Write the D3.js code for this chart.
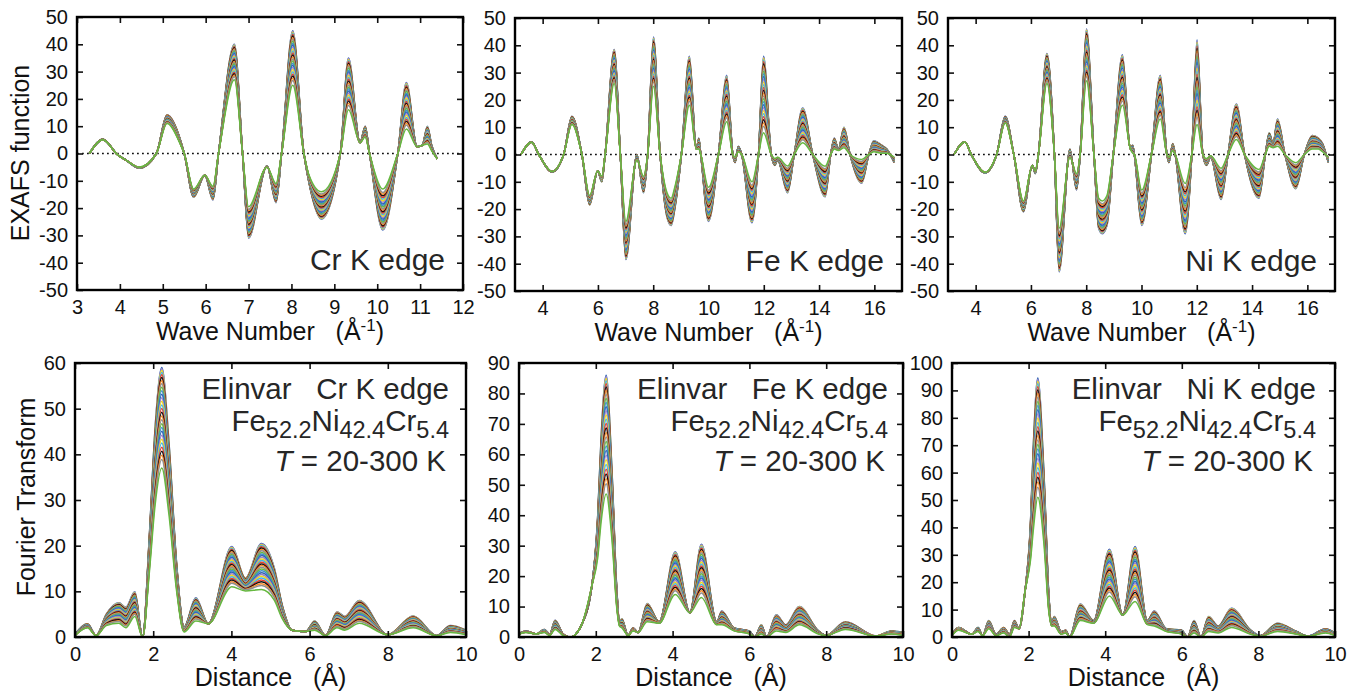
<!DOCTYPE html>
<html>
<head>
<meta charset="utf-8">
<script src="https://cdn.jsdelivr.net/npm/d3@7"></script>
<style>
  html, body { margin: 0; padding: 0; background: #fff; }
  svg { display: block; font-family: "Liberation Sans", Arial, Helvetica, sans-serif; }
</style>
</head>
<body>
<svg id="fig" width="1358" height="698"></svg>
<script>
// Measurement temperatures (K), one curve each
const temperatures = [20, 30, 40, 50, 60, 70, 80, 90, 100, 110, 120, 130, 140, 150, 160,
  170, 180, 190, 200, 210, 220, 230, 240, 250, 260, 270, 280, 290, 300];

// Relative damping of each temperature between the 20 K (0) and 300 K (1) spectra
const bandPos = [0, 0.012, 0.028, 0.048, 0.072, 0.1, 0.13, 0.162, 0.196, 0.23, 0.265, 0.3,
  0.336, 0.372, 0.408, 0.445, 0.482, 0.52, 0.558, 0.596, 0.635, 0.674, 0.713, 0.752,
  0.792, 0.832, 0.873, 0.915, 1];

// Line colour cycle
const lineColors = ["#2f64b5", "#9c84c8", "#efdc1c", "#47b4e6", "#e8412c",
  "#111111", "#f28a2c", "#8f8f8f", "#66b840", "#3f8fcf"];

// EXAFS k·chi(k): [k (Å^-1), 20 K value, 300 K value]
const chiCr = [
  [3.29, 0, 0], [3.6, 5.2, 5], [3.95, -0.5, -0.5], [4.15, -2.5, -2.5], [4.45, -5.4, -5],
  [4.85, 0, 0], [5.1, 14.2, 11], [5.42, 4.5, 3], [5.5, 0, 0], [5.72, -16, -13],
  [5.98, -8, -8], [6.17, -17, -12], [6.3, 0, 0], [6.67, 40, 27], [6.86, 0, 0],
  [7.0, -31, -19.5], [7.43, -4.5, -5], [7.64, -18, -11], [7.77, 0, 0], [8.03, 45, 25],
  [8.29, 0, 0], [8.4, -10, -7.5], [8.7, -24, -14], [9.14, 0, 0], [9.33, 35, 16],
  [9.6, 4, 4], [9.72, 10, 6], [9.82, 0, 0], [10.13, -28, -13], [10.48, 0, 0],
  [10.68, 26, 9], [10.93, 2.5, 2.5], [11.05, 3, 3], [11.17, 10, 3.5], [11.27, 3, 1],
  [11.4, -2, -2]
];
const chiFe = [
  [3.22, 0, 0], [3.6, 4.6, 4.5], [3.86, 0, 0], [4.34, -6.4, -6.2], [4.76, 0, 0],
  [5.06, 14, 11], [5.42, 0, 0], [5.7, -18.5, -15], [5.99, -6, -6], [6.14, -10, -8],
  [6.26, 0, 0], [6.59, 38.5, 26], [6.81, 0, 0], [7.01, -38.5, -24.5], [7.41, 0, -2],
  [7.65, -14, -8], [7.8, 0, 0], [8.01, 43, 25], [8.25, 0, 0], [8.5, -23, -14],
  [8.65, -26, -16], [8.78, -20, -12], [9.02, 0, 0], [9.31, 36, 18], [9.56, 2, 2],
  [9.65, 6, 2], [9.72, 0, 0], [10.0, -24.5, -12], [10.36, 0, 0], [10.66, 29, 12],
  [10.88, 0, 0], [10.96, -3, -1], [11.08, 3, 1], [11.2, 0, 0], [11.57, -25, -10],
  [11.81, 0, 0], [11.99, 36, 8], [12.27, 0, 0], [12.4, -4, -1.5], [12.5, -2, -1],
  [12.86, -14, -4.2], [13.1, 0, 0], [13.41, 17, 4.3], [13.77, 0, 0], [14.22, -15.5, -4.3],
  [14.42, 0, 0], [14.55, 6, 2], [14.7, 2, 1.5], [14.9, 10, 2.5], [15.12, 0, 0],
  [15.54, -10.5, -1.8], [15.8, 0, 0], [15.98, 5, 1], [16.25, 3.5, 0.5], [16.45, 2, 0.5],
  [16.72, -3, -1]
];
const chiNi = [
  [3.22, 0, 0], [3.61, 4.7, 4.6], [3.84, 0, 0], [4.34, -6.7, -6.5], [4.76, 0, 0],
  [5.07, 14, 11.5], [5.38, 0, 0], [5.73, -21, -17], [6.05, -4, -4], [6.16, -7, -6],
  [6.27, 0, 0], [6.58, 37, 26], [6.85, 0, 0], [7.02, -43, -27], [7.41, 2, -1],
  [7.65, -13, -7], [7.78, 0, 0], [8.01, 46, 27], [8.28, 0, 0], [8.45, -27, -16],
  [8.58, -29, -17], [8.75, -26, -15], [8.98, 0, 0], [9.31, 36.5, 18], [9.6, 2, 2],
  [9.68, 3.5, 0.5], [9.74, 0, 0], [10.01, -26, -13], [10.36, 0, 0], [10.68, 29, 13],
  [10.92, 0, 0], [10.99, -3, -1], [11.13, 4, 1.5], [11.22, 0, 0], [11.58, -29, -10.6],
  [11.82, 0, 0], [12.01, 42, 11], [12.22, 0, 0], [12.35, -4, -1.5], [12.5, -1, -0.5],
  [12.88, -16.5, -5], [13.13, 0, 0], [13.43, 18.5, 5.5], [13.73, 0, 0], [14.25, -16, -5.5],
  [14.48, 0, 0], [14.62, 8, 3], [14.76, 4, 2.5], [14.92, 13, 3], [15.19, 0, 0],
  [15.58, -12.5, -3], [15.89, 0, 0], [16.18, 7, 2], [16.4, 6, 2], [16.55, 4, 1],
  [16.76, -3, -1]
];

// Fourier transform magnitude: [R (Å), 20 K value, 300 K value]
const ftCr = [
  [0, 0.6, 0.3], [0.32, 2.9, 2], [0.54, 0.3, 0.3], [0.8, 5, 2.5], [1.12, 7.5, 3],
  [1.3, 6.5, 2], [1.53, 9.9, 4.5], [1.73, 0, 0], [1.9, 22, 14], [2.05, 46, 29],
  [2.22, 59, 37], [2.4, 43, 27], [2.6, 16, 10], [2.79, 2.2, 1.1], [3.09, 8.6, 3.5],
  [3.41, 2.9, 2.9], [4.01, 19.8, 11], [4.36, 12.9, 10.1], [4.77, 20.5, 10.4],
  [5.1, 15, 8], [5.3, 7, 4], [5.55, 1.5, 1.5], [5.9, 1.2, 1.2], [6.13, 3.5, 1.5],
  [6.41, 0.3, 0.3], [6.7, 5.5, 2], [6.9, 4.5, 1.5], [7.27, 8, 3], [8.0, 0.5, 0.5],
  [8.65, 4.6, 2], [9.25, 0.3, 0.3], [9.6, 2.5, 1], [10, 1.5, 0.5]
];
const ftFe = [
  [0, 1, 1], [0.18, 2, 1.5], [0.45, 1, 1], [0.66, 2.5, 1.5], [0.8, 1, 0.5],
  [0.94, 5.5, 2.5], [1.15, 1, 0.5], [1.34, 0, 0], [1.63, 4, 4], [1.9, 17, 17],
  [2.05, 40, 26], [2.14, 66, 38], [2.27, 86, 47], [2.42, 55, 32], [2.55, 15, 9],
  [2.62, 5, 3.5], [2.68, 6, 3], [2.84, 0.5, 0.5], [2.97, 3, 2], [3.1, 1.5, 1.5],
  [3.34, 11, 5], [3.65, 5, 4.5], [4.07, 28, 14], [4.45, 8, 8], [4.75, 30.5, 13],
  [5.15, 5, 4], [5.28, 8.5, 4], [5.6, 3, 2], [6.0, 2, 1], [6.14, 0, 0], [6.31, 4, 1],
  [6.45, 0, 0], [6.7, 7.3, 2], [6.95, 4, 1.5], [7.3, 10, 4], [7.8, 2, 1], [8.0, 0.5, 0.5],
  [8.5, 5, 2.5], [9.3, 0.3, 0.3], [9.7, 2, 1], [10, 1.5, 0.5]
];
const ftNi = [
  [0, 1, 0.5], [0.17, 3.5, 2.5], [0.52, 1, 1], [0.68, 3.5, 2], [0.8, 0.5, 0.5],
  [0.96, 6, 3], [1.15, 1, 0.5], [1.35, 3.5, 1.5], [1.5, 1, 0], [1.63, 6, 3.5],
  [1.75, 3, 3], [1.91, 17, 17], [2.05, 42, 28], [2.13, 72, 40], [2.24, 94.5, 51],
  [2.4, 60, 34], [2.53, 15, 9], [2.6, 5, 4], [2.67, 7.5, 4], [2.85, 2, 1], [2.97, 2.5, 1.5],
  [3.07, 0, 0], [3.35, 12, 6], [3.7, 6, 5], [4.11, 32, 15], [4.46, 8, 8], [4.78, 33, 13],
  [5.1, 6, 4.5], [5.28, 9.5, 4], [5.6, 3, 2], [6.0, 2.5, 1], [6.15, 0, 0], [6.32, 6, 1.5],
  [6.5, 0, 0], [6.7, 7.5, 2], [6.95, 4, 1.5], [7.3, 10.5, 3.5], [7.8, 2.5, 1],
  [8.05, 0.5, 0.3], [8.5, 5, 2], [9.0, 2, 1], [9.3, 0.3, 0.3], [9.75, 3, 1.5], [10, 1.5, 0.5]
];

// Axis ticks
const chiTicksY = [-50, -40, -30, -20, -10, 0, 10, 20, 30, 40, 50];
const kTicksCr = [3, 4, 5, 6, 7, 8, 9, 10, 11, 12];
const kTicksWide = [4, 6, 8, 10, 12, 14, 16];
const rTicks = [0, 2, 4, 6, 8, 10];
const ftTicksCr = [0, 10, 20, 30, 40, 50, 60];
const ftTicksFe = [0, 10, 20, 30, 40, 50, 60, 70, 80, 90];
const ftTicksNi = [0, 10, 20, 30, 40, 50, 60, 70, 80, 90, 100];

const edgeNames = ["Cr", "Fe", "Ni"];

const svg = d3.select("#fig");
const TICK_FONT = 20;
const TEXT_COL = "#262626";

const panels = [
  { data: chiCr, box: [77, 17, 463, 290], xd: [3, 12], yd: [-50, 50], xt: kTicksCr, yt: chiTicksY, kind: "chi", edge: 0 },
  { data: chiFe, box: [515, 18, 902, 291], xd: [3, 17], yd: [-50, 50], xt: kTicksWide, yt: chiTicksY, kind: "chi", edge: 1 },
  { data: chiNi, box: [948, 18, 1335, 291], xd: [3, 17], yd: [-50, 50], xt: kTicksWide, yt: chiTicksY, kind: "chi", edge: 2 },
  { data: ftCr, box: [75, 363, 466, 637], xd: [0, 10], yd: [0, 60], xt: rTicks, yt: ftTicksCr, kind: "ft", edge: 0, inset: 17 },
  { data: ftFe, box: [519, 363, 903, 637], xd: [0, 10], yd: [0, 90], xt: rTicks, yt: ftTicksFe, kind: "ft", edge: 1, inset: 15 },
  { data: ftNi, box: [952, 363, 1335, 637], xd: [0, 10], yd: [0, 100], xt: rTicks, yt: ftTicksNi, kind: "ft", edge: 2, inset: 19 }
];

const defs = svg.append("defs");

panels.forEach((p, pi) => {
  const [x0, y0, x1, y1] = p.box;
  const x = d3.scaleLinear().domain(p.xd).range([x0, x1]);
  const y = d3.scaleLinear().domain(p.yd).range([y1, y0]);
  const g = svg.append("g");

  defs.append("clipPath").attr("id", "clip" + pi)
    .append("rect").attr("x", x0).attr("y", y0 - 2).attr("width", x1 - x0).attr("height", y1 - y0 + 1);

  // dotted zero line for the EXAFS panels
  if (p.kind === "chi") {
    g.append("line")
      .attr("x1", x0).attr("x2", x1).attr("y1", y(0)).attr("y2", y(0))
      .attr("stroke", "#111").attr("stroke-width", 1.6)
      .attr("stroke-dasharray", "1.8 3.2");
  }

  // one spectrum per temperature, 20 K first so 300 K ends on top
  const line = d3.line().x(d => x(d[0])).y(d => y(d[1])).curve(d3.curveMonotoneX);
  const curves = g.append("g").attr("clip-path", p.kind === "ft" ? "url(#clip" + pi + ")" : null);
  temperatures.forEach((t, i) => {
    const f = bandPos[i];
    const pts = p.data.map(([xv, hi, lo]) => [xv, hi + (lo - hi) * f]);
    curves.append("path")
      .attr("d", line(pts))
      .attr("fill", "none")
      .attr("stroke", lineColors[i % lineColors.length])
      .attr("stroke-width", 1.5)
      .attr("stroke-linejoin", "round");
  });

  // axes: inward ticks on all four sides, labels on left and bottom
  const tl = 6;
  const xAxisB = d3.axisBottom(x).tickValues(p.xt).tickSize(-tl).tickPadding(8).tickFormat(d => String(d));
  const xAxisT = d3.axisTop(x).tickValues(p.xt).tickSize(-tl).tickFormat("");
  const yAxisL = d3.axisLeft(y).tickValues(p.yt).tickSize(-tl).tickPadding(8).tickFormat(d => String(d));
  const yAxisR = d3.axisRight(y).tickValues(p.yt).tickSize(-tl).tickFormat("");

  const axB = g.append("g").attr("transform", `translate(0,${y1})`).call(xAxisB);
  const axT = g.append("g").attr("transform", `translate(0,${y0})`).call(xAxisT);
  const axL = g.append("g").attr("transform", `translate(${x0},0)`).call(yAxisL);
  const axR = g.append("g").attr("transform", `translate(${x1},0)`).call(yAxisR);
  [axB, axT, axL, axR].forEach(a => {
    a.select(".domain").remove();
    a.selectAll(".tick line").attr("stroke", "#111").attr("stroke-width", 1.6);
    a.selectAll("text").attr("font-size", TICK_FONT).attr("fill", "#111")
      .attr("font-family", "'Liberation Sans', Arial, sans-serif");
  });
  axB.selectAll("text").attr("dy", "0.78em");
  axL.selectAll("text").attr("dx", "-1");

  // frame
  g.append("rect").attr("x", x0).attr("y", y0).attr("width", x1 - x0).attr("height", y1 - y0)
    .attr("fill", "none").attr("stroke", "#000").attr("stroke-width", 2.4);

  const cx = (x0 + x1) / 2;
  const name = edgeNames[p.edge];
  if (p.kind === "chi") {
    // x title with superscript
    const xt = g.append("text").attr("x", cx).attr("y", y1 + 50)
      .attr("text-anchor", "middle").attr("font-size", 25).attr("fill", "#111")
      .style("white-space", "pre");
    xt.append("tspan").text("Wave Number   (Å");
    xt.append("tspan").attr("font-size", 17).attr("dy", -9).text("-1");
    xt.append("tspan").attr("dy", 9).text(")");

    g.append("text").attr("x", x1 - 18).attr("y", y1 - 20)
      .attr("text-anchor", "end").attr("font-size", 30).attr("fill", TEXT_COL)
      .text(name + " K edge");
  } else {
    g.append("text").attr("x", cx).attr("y", y1 + 49)
      .attr("text-anchor", "middle").attr("font-size", 25).attr("fill", "#111")
      .style("white-space", "pre")
      .text("Distance   (Å)");

    const xr = x1 - p.inset;
    g.append("text").attr("x", xr).attr("y", y0 + 36)
      .attr("text-anchor", "end").attr("font-size", 29.5).attr("fill", TEXT_COL)
      .style("white-space", "pre")
      .text("Elinvar   " + name + " K edge");

    const comp = g.append("text").attr("x", xr).attr("y", y0 + 68)
      .attr("text-anchor", "end").attr("font-size", 29.5).attr("fill", TEXT_COL);
    [["Fe", "52.2"], ["Ni", "42.4"], ["Cr", "5.4"]].forEach(([el, sub], j) => {
      comp.append("tspan").attr("dy", j === 0 ? 0 : -7).text(el);
      comp.append("tspan").attr("font-size", 23.5).attr("dy", 7).text(sub);
    });

    const tt = g.append("text").attr("x", xr - 3).attr("y", y0 + 108)
      .attr("text-anchor", "end").attr("font-size", 29.5).attr("fill", TEXT_COL)
      .style("white-space", "pre");
    tt.append("tspan").attr("font-style", "italic").text("T");
    tt.append("tspan").text(" = 20-300 K");
  }
});

// shared y titles
svg.append("text")
  .attr("transform", "translate(29,153) rotate(-90)")
  .attr("text-anchor", "middle").attr("font-size", 25).attr("fill", "#111")
  .text("EXAFS function");
svg.append("text")
  .attr("transform", "translate(35,497) rotate(-90)")
  .attr("text-anchor", "middle").attr("font-size", 25).attr("fill", "#111")
  .text("Fourier Transform");
</script>
</body>
</html>
